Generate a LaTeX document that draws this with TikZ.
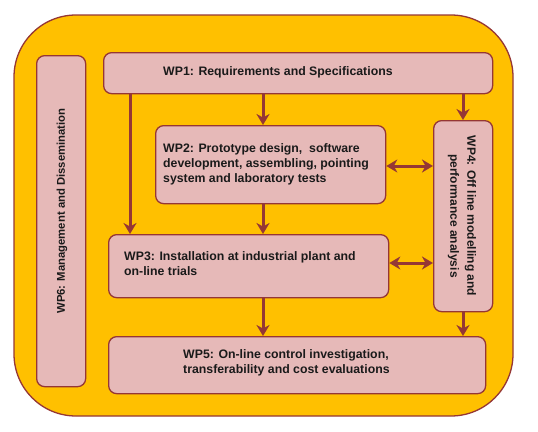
\documentclass[tikz,border=0pt]{standalone}
\usepackage{fontspec}
\setmainfont{Liberation Sans}
\usetikzlibrary{arrows.meta}
\definecolor{frame}{HTML}{953735}
\definecolor{orangebg}{HTML}{FFC000}
\definecolor{boxfill}{HTML}{E6B9B8}
\definecolor{txt}{HTML}{1A1A1A}
\begin{document}
\begin{tikzpicture}[x=1pt,y=-1pt,
  outer/.style={draw=frame, fill=orangebg, line width=1.3pt, rounded corners=62pt},
  wpbox/.style={draw=frame, fill=boxfill, line width=1.3pt, rounded corners=8pt, inner sep=0pt, anchor=north west},
  lbl/.style={font=\fontsize{12.3}{15}\selectfont\bfseries, text=txt, inner sep=0pt},
  arr/.style={draw=frame, line width=3pt, -{Stealth[length=11pt,width=13pt,inset=3.5pt]}},
  darr/.style={draw=frame, line width=3pt, {Stealth[length=11pt,width=13pt,inset=3.5pt]}-{Stealth[length=11pt,width=13pt,inset=3.5pt]}}]
\useasboundingbox (0,0) rectangle (538,431);
\draw[outer] (14,15) rectangle (513,416);
% boxes
\node[wpbox, minimum width=49pt, minimum height=331pt] (wp6) at (36,55) {};
\node[wpbox, minimum width=389pt, minimum height=41pt] (wp1) at (103,52) {};
\node[wpbox, minimum width=230pt, minimum height=78pt] (wp2) at (155,125) {};
\node[wpbox, minimum width=59pt, minimum height=191pt] (wp4) at (433,120) {};
\node[wpbox, minimum width=280pt, minimum height=63pt] (wp3) at (108,234) {};
\node[wpbox, minimum width=377pt, minimum height=57pt] (wp5) at (108,336) {};
% labels
\node[lbl, anchor=west] (t1) at (163,72) {WP1: Requirements and Specifications};
\node[lbl, anchor=west, align=left] (t2) at (163,164) {WP2: Prototype design,\ \ software\\development, assembling, pointing\\system and laboratory tests};
\node[lbl, anchor=west, align=left] (t3) at (124,264) {WP3: Installation at industrial plant and\\on-line trials};
\node[lbl, anchor=west, align=left] (t5) at (183,363) {WP5: On-line control investigation,\\transferability and cost evaluations};
\node[lbl, rotate=-90, align=center, font=\fontsize{12}{17}\selectfont\bfseries] (t4) at (462,216) {WP4: Off line modelling and\\performance analysis};
\node[lbl, rotate=90, font=\fontsize{11.3}{15}\selectfont\bfseries] (t6) at (62,211) {WP6: Management and Dissemination};
% arrow columns
\coordinate (xa) at (130,0);
\coordinate (xb) at (263,0);
\coordinate (xc) at (463,0);
\coordinate (ya) at (0,166);
\coordinate (yb) at (0,263);
\draw[arr] (wp1.south -| xb) -- (wp2.north -| xb);
\draw[arr] (wp1.south -| xa) -- (wp3.north -| xa);
\draw[arr] (wp1.south -| xc) -- (wp4.north -| xc);
\draw[arr] (wp2.south -| xb) -- (wp3.north -| xb);
\draw[arr] (wp3.south -| xb) -- (wp5.north -| xb);
\draw[arr] (wp4.south -| xc) -- (wp5.north -| xc);
\draw[darr] (wp2.east |- ya) -- (wp4.west |- ya);
\draw[darr] (wp3.east |- yb) -- (wp4.west |- yb);
\end{tikzpicture}
\end{document}
